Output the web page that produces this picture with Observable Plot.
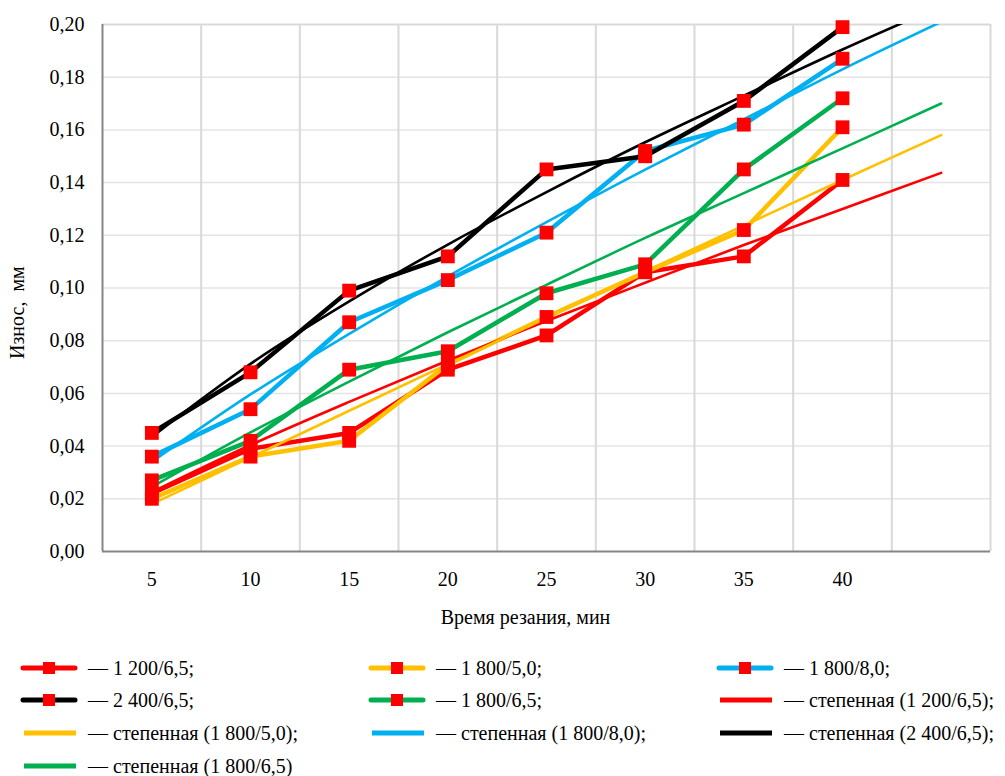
<!DOCTYPE html>
<html><head><meta charset="utf-8">
<script src="https://cdn.jsdelivr.net/npm/d3@7"></script>
<script src="https://cdn.jsdelivr.net/npm/@observablehq/plot@0.6"></script>
<style>
body{margin:0;background:#fff;font-family:"Liberation Serif","Tinos","Times New Roman","DejaVu Serif",serif;}
#wrap{position:relative;width:1005px;height:776px;overflow:hidden;}
#chart{position:absolute;left:0;top:0;}
#chart svg, #chart svg text{font-family:"Liberation Serif","Tinos","Times New Roman","DejaVu Serif",serif !important;}
.item{position:absolute;display:flex;align-items:center;font-size:20px;white-space:nowrap;color:#000;height:30px;}
.item svg{margin-right:10px;}
</style></head><body>
<div id="wrap"><div id="chart"></div><div id="legend"></div></div>
<script>
// ---- data ----
const times = [5, 10, 15, 20, 25, 30, 35, 40];
const trendTimes = [5, 10, 15, 20, 25, 30, 35, 40, 45];
const yTicks = [0, 0.02, 0.04, 0.06, 0.08, 0.10, 0.12, 0.14, 0.16, 0.18, 0.20];

const seriesNames = ["1 200/6,5", "1 800/5,0", "1 800/8,0", "2 400/6,5", "1 800/6,5"];
const seriesColors = ["#ff0000", "#ffc000", "#00b0f0", "#000000", "#00b050"];

// measured wear, mm
const wear_1200_65 = [0.022, 0.039, 0.045, 0.069, 0.082, 0.106, 0.112, 0.141];
const wear_1800_50 = [0.020, 0.036, 0.042, 0.071, 0.089, 0.106, 0.122, 0.161];
const wear_1800_80 = [0.036, 0.054, 0.087, 0.103, 0.121, 0.152, 0.162, 0.187];
const wear_2400_65 = [0.045, 0.068, 0.099, 0.112, 0.145, 0.150, 0.171, 0.199];
const wear_1800_65 = [0.027, 0.042, 0.069, 0.076, 0.098, 0.109, 0.145, 0.172];

// power trend lines
const trend_1200_65 = [0.0225, 0.0404, 0.0568, 0.0725, 0.0875, 0.102, 0.1163, 0.130, 0.1437];
const trend_1800_50 = [0.018, 0.0357, 0.0534, 0.0711, 0.0886, 0.1063, 0.1237, 0.141, 0.158];
const trend_1800_80 = [0.034, 0.0596, 0.0826, 0.1044, 0.125, 0.1449, 0.164, 0.183, 0.201];
const trend_2400_65 = [0.0435, 0.0712, 0.0949, 0.1165, 0.1364, 0.1553, 0.173, 0.1905, 0.207];
const trend_1800_65 = [0.0245, 0.0452, 0.0645, 0.0832, 0.1012, 0.119, 0.136, 0.153, 0.170];

const legendLabels = [
  "— 1 200/6,5;", "— 1 800/5,0;", "— 1 800/8,0;",
  "— 2 400/6,5;", "— 1 800/6,5;", "— степенная (1 200/6,5);",
  "— степенная (1 800/5,0);", "— степенная (1 800/8,0);", "— степенная (2 400/6,5);",
  "— степенная (1 800/6,5)"
];

// ---- build tables ----
const wearSets = [wear_1200_65, wear_1800_50, wear_1800_80, wear_2400_65, wear_1800_65];
const trendSets = [trend_1200_65, trend_1800_50, trend_1800_80, trend_2400_65, trend_1800_65];
const measured = [];
wearSets.forEach((arr, i) => arr.forEach((v, j) => measured.push({series: seriesNames[i], si: i, t: times[j], v})));
const trends = [];
trendSets.forEach((arr, i) => arr.forEach((v, j) => trends.push({series: seriesNames[i], si: i, t: trendTimes[j], v})));

const fmt = d => d3.format(".2f")(d).replace(".", ",");
const gridX = d3.range(7.5, 48, 5);
const serif = "'Liberation Serif', 'Tinos', 'Times New Roman', 'DejaVu Serif', serif";

const marks = [
  Plot.gridY(yTicks.slice(1, -1), {stroke: "#e4e4e4", strokeOpacity: 1, strokeWidth: 1.5}),
  Plot.gridX(gridX, {stroke: "#d9d9d9", strokeOpacity: 1, strokeWidth: 2}),
  Plot.ruleY([0.2], {stroke: "#d9d9d9", strokeWidth: 2}),
  Plot.ruleX([2.5], {stroke: "#868686", strokeWidth: 2}),
  Plot.ruleY([0], {stroke: "#868686", strokeWidth: 2}),
  Plot.axisY({ticks: yTicks, tickFormat: fmt, tickSize: 0, tickPadding: 18, label: null, fontSize: 20}),
  Plot.axisX({ticks: times, tickSize: 0, tickPadding: 20, label: null, fontSize: 20}),
  Plot.text(["Время резания, мин"], {frameAnchor: "bottom", lineAnchor: "middle", dx: -21, dy: 66, fontSize: 20}),
  Plot.text(["Износ,  мм"], {frameAnchor: "left", lineAnchor: "middle", dx: -85, dy: 71, rotate: -90, fontSize: 20})
];
seriesNames.forEach((n, i) => {
  marks.push(Plot.line(measured.filter(d => d.si === i), {x: "t", y: "v", stroke: seriesColors[i], strokeWidth: 4.5, strokeLinejoin: "round", strokeLinecap: "round"}));
});
seriesNames.forEach((n, i) => {
  marks.push(Plot.line(trends.filter(d => d.si === i), {x: "t", y: "v", stroke: seriesColors[i], strokeWidth: 2.6, clip: "frame", curve: "catmull-rom"}));
});
marks.push(Plot.dot(measured, {x: "t", y: "v", symbol: "square", r: 7.8, fill: "#ff0000", stroke: "none"}));

const chart = Plot.plot({
  width: 1005, height: 640,
  marginTop: 24, marginBottom: 89, marginLeft: 102, marginRight: 15,
  style: {fontFamily: serif, fontSize: "20px", color: "#000", background: "#fff"},
  x: {domain: [2.5, 47.5]},
  y: {domain: [0, 0.2]},
  marks
});
document.getElementById("chart").appendChild(chart);

// ---- legend ----
const colX = [20, 368, 716];
const rowY = [668, 700, 733, 766];
const legendColors = seriesColors.concat(seriesColors);
const legend = document.getElementById("legend");
legendLabels.forEach((lab, k) => {
  const col = k % 3, row = Math.floor(k / 3);
  const isSeries = k < 5;
  const c = legendColors[k];
  const div = document.createElement("div");
  div.className = "item";
  div.style.left = colX[col] + "px";
  div.style.top = (rowY[row] - 15) + "px";
  let sw = `<svg width="58" height="20" viewBox="0 0 58 20">`;
  if (isSeries) {
    sw += `<line x1="3" y1="10" x2="55" y2="10" stroke="${c}" stroke-width="5" stroke-linecap="round"/>`;
    sw += `<rect x="23" y="4" width="12" height="12" fill="#ff0000"/>`;
  } else {
    sw += `<line x1="4" y1="10" x2="56" y2="10" stroke="${c}" stroke-width="5"/>`;
  }
  sw += `</svg>`;
  div.innerHTML = sw + `<span>${lab}</span>`;
  legend.appendChild(div);
});
</script>
</body></html>
